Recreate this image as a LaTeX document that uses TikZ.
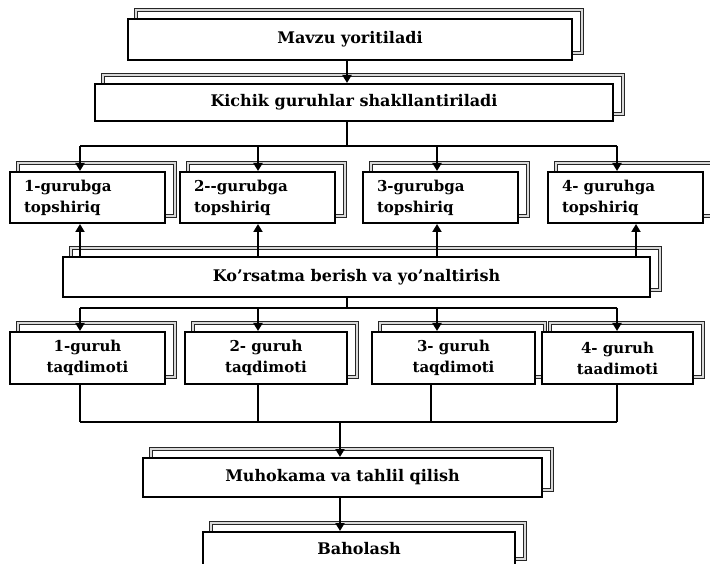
\documentclass[tikz,border=0pt]{standalone}
\usepackage{fontspec}
\setmainfont{DejaVu Serif}
\usetikzlibrary{arrows.meta,backgrounds}
\begin{document}
\begin{tikzpicture}[x=1pt,y=1pt,
  box/.style={draw=black,line width=2pt,fill=white,inner sep=0pt,
    font=\bfseries\fontsize{16}{20}\selectfont,align=center},
  tbox/.style={box,font=\bfseries\fontsize{15}{21}\selectfont},
  lbox/.style={tbox,align=left,inner xsep=14pt,text width=#1},
  shadowline/.style={draw=black!85,line width=1pt,double=black!15,double distance=1.2pt},
  conn/.style={line width=1.8pt,draw=black},
  arr/.style={conn,-{Triangle[length=8pt,width=9pt]}}]
\clip (0,0) rectangle (710,563);
% boxes
\node[box,minimum width=444,minimum height=41] (mavzu) at (350,523.5) {Mavzu yoritiladi};
\node[box,minimum width=518,minimum height=37] (kichik) at (354,460.5) {Kichik guruhlar shakllantiriladi};
\node[lbox=127pt,minimum width=155,minimum height=51] (ts1) at (87.5,365.5) {1-gurubga\\topshiriq};
\node[lbox=127pt,minimum width=155,minimum height=51] (ts2) at (257.5,365.5) {2-{}-gurubga\\topshiriq};
\node[lbox=127pt,minimum width=155,minimum height=51] (ts3) at (440.5,365.5) {3-gurubga\\topshiriq};
\node[lbox=127pt,minimum width=155,minimum height=51] (ts4) at (625.5,365.5) {4- guruhga\\topshiriq};
\node[box,minimum width=587,minimum height=40] (kors) at (356.5,286) {Ko’rsatma berish va yo’naltirish};
\node[tbox,minimum width=155,minimum height=52] (tq1) at (87.5,205) {1-guruh\\taqdimoti};
\node[tbox,minimum width=162,minimum height=52] (tq2) at (266,205) {2- guruh\\taqdimoti};
\node[tbox,minimum width=163,minimum height=52] (tq3) at (453.5,205) {3- guruh\\taqdimoti};
\node[tbox,minimum width=151,minimum height=52] (tq4) at (617.5,205) {4- guruh\\taadimoti};
\node[box,minimum width=399,minimum height=39] (muh) at (342.5,85.5) {Muhokama va tahlil qilish};
\node[box,minimum width=312,minimum height=34] (bah) at (359,14) {Baholash};
% shadows
\begin{scope}[on background layer]
\fill[white] (0,0) rectangle (710,563);
\foreach \n in {mavzu,kichik,ts1,ts2,ts3,ts4,kors,tq1,tq2,tq3,tq4,muh,bah}{
  \draw[shadowline] ([shift={(9,8)}]\n.south west) rectangle ([shift={(9,8)}]\n.north east);
}
\end{scope}
% column and bus coordinates
\coordinate (colA) at (80,0);
\coordinate (colB) at (258,0);
\coordinate (colC) at (437,0);
\coordinate (colCb) at (431,0);
\coordinate (colD) at (617,0);
\coordinate (colDu) at (636,0);
\coordinate (mid) at (347,0);
\coordinate (midb) at (340,0);
\coordinate (bus1) at (0,417);
\coordinate (bus2) at (0,255);
\coordinate (bus3) at (0,141);
% connectors
\draw[arr] (mavzu.south -| mid) -- (kichik.north -| mid);
\draw[conn] (kichik.south -| mid) -- (mid |- bus1);
\draw[conn] (colA |- bus1) -- (colD |- bus1);
\draw[arr] (colA |- bus1) -- (ts1.north -| colA);
\draw[arr] (colB |- bus1) -- (ts2.north -| colB);
\draw[arr] (colC |- bus1) -- (ts3.north -| colC);
\draw[arr] (colD |- bus1) -- (ts4.north -| colD);
\draw[arr] (kors.north -| colA) -- (ts1.south -| colA);
\draw[arr] (kors.north -| colB) -- (ts2.south -| colB);
\draw[arr] (kors.north -| colC) -- (ts3.south -| colC);
\draw[arr] (kors.north -| colDu) -- (ts4.south -| colDu);
\draw[conn] (kors.south -| mid) -- (mid |- bus2);
\draw[conn] (colA |- bus2) -- (colD |- bus2);
\draw[arr] (colA |- bus2) -- (tq1.north -| colA);
\draw[arr] (colB |- bus2) -- (tq2.north -| colB);
\draw[arr] (colC |- bus2) -- (tq3.north -| colC);
\draw[arr] (colD |- bus2) -- (tq4.north -| colD);
\draw[conn] (tq1.south -| colA) -- (colA |- bus3);
\draw[conn] (tq2.south -| colB) -- (colB |- bus3);
\draw[conn] (tq3.south -| colCb) -- (colCb |- bus3);
\draw[conn] (tq4.south -| colD) -- (colD |- bus3);
\draw[conn] (colA |- bus3) -- (colD |- bus3);
\draw[arr] (midb |- bus3) -- (muh.north -| midb);
\draw[arr] (muh.south -| midb) -- (bah.north -| midb);
\end{tikzpicture}
\end{document}
